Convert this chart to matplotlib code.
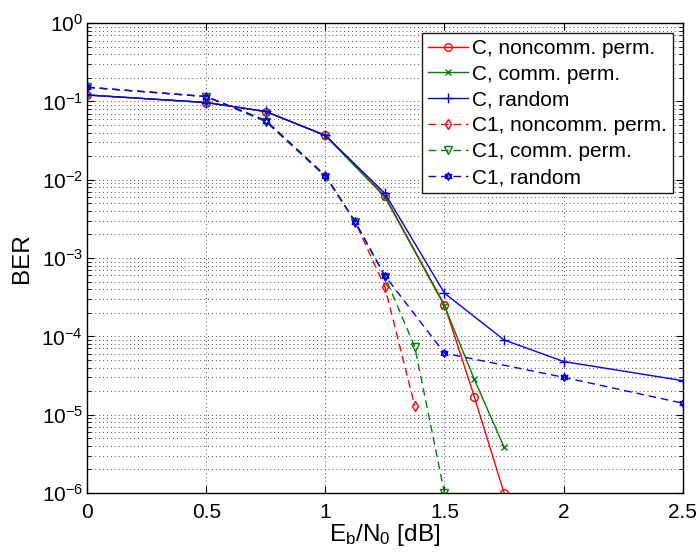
import numpy as np
import matplotlib
matplotlib.use("Agg")
import matplotlib.pyplot as plt
from matplotlib.path import Path
from matplotlib.ticker import LogLocator, FixedLocator, NullFormatter

plt.rcParams['font.family'] = ['Liberation Sans', 'DejaVu Sans']
plt.rcParams['mathtext.fontset'] = 'custom'
plt.rcParams['mathtext.rm'] = 'Liberation Sans'
plt.rcParams['mathtext.it'] = 'Liberation Sans:italic'

# ---- data ----
x_C = [0, 0.5, 0.75, 1, 1.25, 1.5, 1.625, 1.75]
C_noncomm = [0.121, 0.097, 0.0743, 0.0371, 6.2e-3, 2.52e-4, 1.70e-5, 1.0e-6]
C_comm = [0.121, 0.097, 0.0740, 0.0365, 6.0e-3, 2.45e-4, 2.84e-5, 3.85e-6]
x_C_rand = [0, 0.5, 0.75, 1, 1.25, 1.5, 1.75, 2, 2.5]
C_random = [0.121, 0.097, 0.0745, 0.0368, 6.7e-3, 3.56e-4, 9.0e-5, 4.77e-5, 2.72e-5]
x_C1_noncomm = [0, 0.5, 0.75, 1, 1.125, 1.25, 1.375]
C1_noncomm = [0.152, 0.1155, 0.057, 0.0113, 2.9e-3, 4.25e-4, 1.3e-5]
x_C1_comm = [0, 0.5, 0.75, 1, 1.125, 1.25, 1.375, 1.5]
C1_comm = [0.152, 0.1155, 0.055, 0.0110, 2.92e-3, 5.8e-4, 7.4e-5, 1.0e-6]
x_C1_rand = [0, 0.5, 0.75, 1, 1.125, 1.25, 1.5, 2, 2.5]
C1_random = [0.152, 0.1155, 0.057, 0.0113, 2.9e-3, 5.93e-4, 6.1e-5, 3.0e-5, 1.4e-5]

labels = ['C, noncomm. perm.', 'C, comm. perm.', 'C, random',
          'C1, noncomm. perm.', 'C1, comm. perm.', 'C1, random']
x_ticks = [0, 0.5, 1, 1.5, 2, 2.5]
x_ticklabels = ['0', '0.5', '1', '1.5', '2', '2.5']
y_exponents = [-6, -5, -4, -3, -2, -1, 0]

# hexagram marker (two overlapping triangles)
ang_up = np.deg2rad([90, 210, 330])
ang_dn = np.deg2rad([270, 30, 150])
verts = []
codes = []
for angs in (ang_up, ang_dn):
    pts = [(np.cos(a), np.sin(a)) for a in angs]
    verts += pts + [pts[0]]
    codes += [Path.MOVETO, Path.LINETO, Path.LINETO, Path.CLOSEPOLY]
hexagram = Path(verts, codes)

fig = plt.figure(figsize=(6.98, 5.52), dpi=100)
ax = fig.add_axes([0.125, 0.107, 0.853, 0.851])

red = (1, 0, 0)
green = (0, 0.5, 0)
blue = (0, 0, 1)
dash = (5.5, 3.5)
lw = 1.0
ms = 5.5

ax.plot(x_C, C_noncomm, '-', color=red, marker='o', mfc='none', ms=ms, lw=lw, label=labels[0])
ax.plot(x_C, C_comm, '-', color=green, marker='x', ms=4, lw=lw, label=labels[1])
ax.plot(x_C_rand, C_random, '-', color=blue, marker='+', ms=7.5, lw=lw, label=labels[2])
ax.plot(x_C1_noncomm, C1_noncomm, color=red, marker='d', mfc='none', ms=ms, lw=lw,
        dashes=dash, label=labels[3])
ax.plot(x_C1_comm, C1_comm, color=green, marker='v', mfc='none', ms=ms, lw=lw,
        dashes=dash, label=labels[4])
ax.plot(x_C1_rand, C1_random, color=blue, marker=hexagram, mfc='none', ms=ms, lw=lw,
        dashes=dash, label=labels[5])

ax.set_yscale('log')
ax.set_xlim(0, 2.5)
ax.set_ylim(1e-6, 1)
ax.xaxis.set_major_locator(FixedLocator(x_ticks))
ax.set_xticklabels(x_ticklabels)
ax.yaxis.set_minor_locator(LogLocator(base=10, subs=np.arange(2, 10), numticks=20))
ax.yaxis.set_minor_formatter(NullFormatter())
ax.set_yticks([10.0**k for k in y_exponents])
ax.set_yticklabels([r'$\mathregular{10^{%d}}$' % k for k in y_exponents])

ax.tick_params(which='both', direction='in', top=True, right=True, labelsize=15)
ax.tick_params(which='major', length=5, width=0.8)
ax.tick_params(which='minor', length=3, width=0.6)
ax.tick_params(axis='x', which='major', pad=7)
ax.tick_params(axis='y', which='major', pad=3)

ax.grid(True, which='major', axis='both', linestyle=(0, (1, 3)), color='0.3', lw=0.7)
ax.grid(True, which='minor', axis='y', linestyle=(0, (1, 3)), color='0.3', lw=0.7)
for s in ax.spines.values():
    s.set_linewidth(1.0)

ax.set_xlabel(r'E$_\mathregular{b}$/N$_\mathregular{0}$ [dB]', fontsize=17.5, labelpad=0)
ax.set_ylabel('BER', fontsize=17.5, labelpad=6)

leg = ax.legend(loc='upper right', fontsize=15, handlelength=1.9, handletextpad=0.2,
                borderpad=0.3, labelspacing=0.33, borderaxespad=0.45,
                fancybox=False, framealpha=1, edgecolor='0.1')
leg.get_frame().set_linewidth(1.0)

fig.savefig('out.png', dpi=100)
